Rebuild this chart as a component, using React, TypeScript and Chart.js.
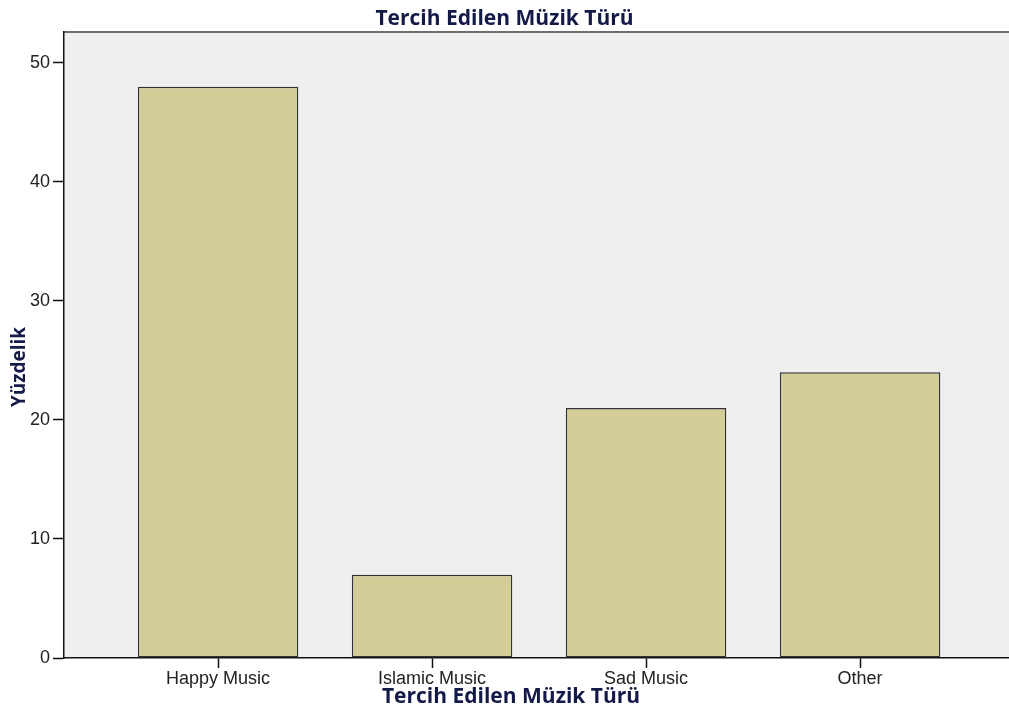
import React, { useEffect, useRef } from "react";
import { Chart, registerables } from "chart.js";

Chart.register(...registerables);

const categories = ["Happy Music", "Islamic Music", "Sad Music", "Other"];
const percentages = [48, 7, 21, 24];
const yTicks = [0, 10, 20, 30, 40, 50];
const chartTitle = "Tercih Edilen Müzik Türü";
const xTitle = "Tercih Edilen Müzik Türü";
const yTitle = "Yüzdelik";

const TITLE_FONT = "'Open Sans', 'DejaVu Sans', sans-serif";
const TICK_FONT = "'Liberation Sans', Arial, sans-serif";
const TITLE_COLOR = "#141a48";

const decorPlugin = {
  id: "decor",
  beforeDraw(chart: any) {
    const { ctx, chartArea } = chart;
    ctx.save();
    ctx.fillStyle = "#efefef";
    ctx.fillRect(chartArea.left, chartArea.top, chartArea.right - chartArea.left, chartArea.bottom - chartArea.top);
    ctx.strokeStyle = "#6e6e6e";
    ctx.lineWidth = 2;
    ctx.beginPath();
    ctx.moveTo(chartArea.left, chartArea.top);
    ctx.lineTo(chartArea.right, chartArea.top);
    ctx.stroke();
    ctx.restore();
  },
  afterDraw(chart: any) {
    const { ctx } = chart;
    ctx.save();
    ctx.fillStyle = TITLE_COLOR;
    ctx.textAlign = "center";
    ctx.textBaseline = "alphabetic";
    ctx.font = `bold 21px ${TITLE_FONT}`;
    ctx.fillText(xTitle, 511, 703);
    ctx.textBaseline = "middle";
    ctx.font = `bold 19px ${TITLE_FONT}`;
    ctx.translate(20, 367);
    ctx.rotate(-Math.PI / 2);
    ctx.fillText(yTitle, 0, 0);
    ctx.restore();
  },
};

export default function App() {
  const ref = useRef<HTMLCanvasElement>(null);
  useEffect(() => {
    if (!ref.current) return;
    const chart = new Chart(ref.current, {
      type: "bar",
      data: {
        datasets: [
          {
            label: yTitle,
            data: percentages.map((v, i) => ({ x: i, y: v })),
            backgroundColor: "#d3ce98",
            borderColor: "#333333",
            borderWidth: 1.5,
            borderSkipped: false,
            categoryPercentage: 1,
            barPercentage: 0.75,
          },
        ],
      },
      options: {
        animation: false,
        responsive: false,
        maintainAspectRatio: false,
        layout: { padding: 0 },
        plugins: {
          legend: { display: false },
          tooltip: { enabled: false },
          title: {
            display: true,
            text: chartTitle,
            color: TITLE_COLOR,
            font: { family: TITLE_FONT, size: 21, weight: "bold", lineHeight: 1 },
            padding: { top: 9, bottom: 2 },
          },
        },
        scales: {
          x: {
            type: "linear",
            offset: false,
            min: -0.72,
            max: 3.696,
            afterBuildTicks: (axis: any) => {
              axis.ticks = categories.map((_, i) => ({ value: i }));
            },
            afterFit: (axis: any) => {
              axis.height = 48;
            },
            ticks: {
              callback: (v: any) => categories[v as number] ?? "",
              color: "#222",
              font: { family: TICK_FONT, size: 18 },
              padding: 0,
              maxRotation: 0,
              autoSkip: false,
            },
            grid: {
              offset: false,
              drawOnChartArea: false,
              drawTicks: true,
              tickLength: 10,
              tickColor: "#111",
              tickWidth: 1.5,
            },
            border: { display: true, color: "#111", width: 1.5 },
          },
          y: {
            min: 0,
            max: 52.6,
            afterBuildTicks: (axis: any) => {
              axis.ticks = yTicks.map((v) => ({ value: v }));
            },
            afterFit: (axis: any) => {
              axis.width = 64;
            },
            ticks: {
              color: "#222",
              font: { family: TICK_FONT, size: 18 },
              padding: 3,
            },
            grid: {
              drawOnChartArea: false,
              drawTicks: true,
              tickLength: 11,
              tickColor: "#111",
              tickWidth: 1.5,
            },
            border: { display: true, color: "#111", width: 1.5 },
          },
        },
      },
      plugins: [decorPlugin],
    });
    return () => chart.destroy();
  }, []);
  return (
    <div style={{ position: "fixed", left: 0, top: 0, width: 1009, height: 706, background: "#fff" }}>
      <canvas ref={ref} width={1009} height={706} style={{ display: "block" }} />
    </div>
  );
}
